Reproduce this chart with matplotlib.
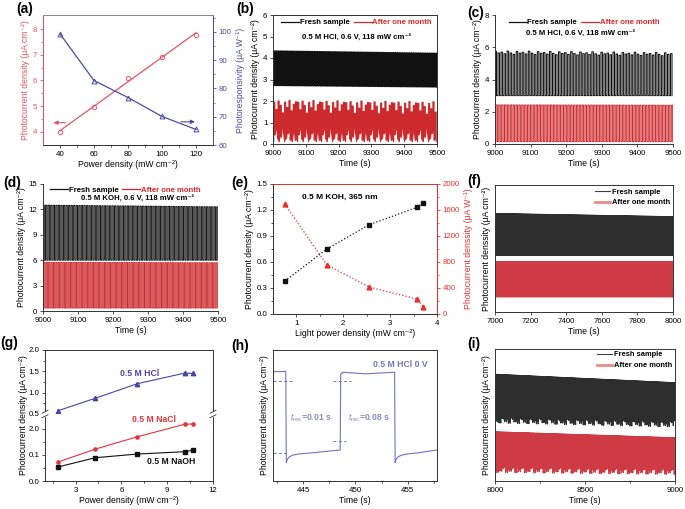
import matplotlib
matplotlib.use('Agg')
import matplotlib.pyplot as plt
import numpy as np
from matplotlib.lines import Line2D

plt.rcParams['font.family'] = ['Liberation Sans', 'DejaVu Sans']
plt.rcParams['mathtext.fontset'] = 'custom'
plt.rcParams['mathtext.rm'] = 'Liberation Sans'
plt.rcParams['mathtext.it'] = 'Liberation Sans:italic'
plt.rcParams['mathtext.bf'] = 'Liberation Sans:bold'

# ---------------- data ----------------
# (a)
a_power = [40, 60, 80, 100, 120]
a_current = [3.99, 4.96, 6.09, 6.92, 7.78]
a_resp = [99.3, 82.8, 76.8, 70.1, 65.5]

# (b) HCl stability (envelope levels at start / end, period in s)
b_env_t = [9000, 9500]
b_fresh_on = [4.33, 4.22]
b_fresh_off = [2.72, 2.65]
b_aged_on = [1.95, 1.88]
b_aged_off = [0.12, 0.12]
b_period = 7
b_aged_on_var = [0.0, -0.35, 0.05, -0.15, -0.5, 0.0, -0.25, 0.08, -0.4, -0.1, 0.02]
b_aged_off_var = [0.0, 0.5, 0.1, 0.3, 0.65, 0.0, 0.2, 0.45, 0.1, 0.35, 0.05]

# (c)
c_env_t = [9000, 9500]
c_fresh_on = [5.65, 5.55]
c_fresh_off = [3.0, 3.0]
c_aged_on = [2.42, 2.4]
c_aged_off = [0.15, 0.15]
c_period = 8.5
c_on_var = [0.1, 0.0, 0.05, -0.05, 0.12, 0.0, -0.08]

# (d)
d_env_t = [9000, 9500]
d_fresh_on = [12.5, 12.3]
d_fresh_off = [6.0, 6.0]
d_aged_on = [5.75, 5.7]
d_aged_off = [0.35, 0.35]
d_period = 7.3

# (e)
e_power = [0.75, 1.65, 2.55, 3.57, 3.70]
e_current = [0.38, 0.75, 1.03, 1.23, 1.28]
e_resp = [1690, 756, 416, 231, 113]

# (f) (arbitrary units)
f_env_t = [7000, 8000]
f_fresh_on = [7.75, 7.5]
f_fresh_off = [4.45, 4.45]
f_aged_on = [3.95, 3.95]
f_aged_off = [1.2, 1.2]
f_period = 4

# (g)
g_power = [1.88, 4.3, 7.05, 10.16, 10.7]
g_hcl = [0.58, 0.87, 1.21, 1.46, 1.45]
g_nacl = [0.073, 0.122, 0.169, 0.217, 0.218]
g_naoh = [0.054, 0.089, 0.103, 0.112, 0.118]
g_low_ticks = [0.0, 0.1, 0.2]
g_low_labels = ['0.0', '0.1', '2.0']

# (h) (arbitrary units)
h_t = [442.13, 443.35, 443.40, 443.5, 443.7, 444.0, 444.6, 445.5, 448.55, 448.60, 448.8,
       449.5, 451.0, 452.5, 453.75, 453.80, 453.9, 454.1, 454.4, 455.0, 456.0, 457.8]
h_y = [8.34, 8.36, 1.40, 1.65, 1.85, 1.97, 2.07, 2.12, 2.37, 8.15, 8.30,
       8.26, 8.18, 8.25, 8.30, 1.40, 1.65, 1.85, 1.97, 2.07, 2.15, 2.37]
h_dash_t0 = [442.13, 442.13, 447.85, 447.85]
h_dash_t1 = [444.1, 443.47, 449.57, 449.1]
h_dash_y = [7.63, 2.11, 7.63, 3.05]

# (i) (arbitrary units)
i_env_t = [8000, 9000]
i_fresh_on = [8.08, 7.44]
i_fresh_off = [5.05, 4.75]
i_aged_on = [3.72, 3.27]
i_aged_off = [1.3, 1.15]
i_period = 4
i_dip = [0.0, 0.35, 0.1, 0.55, 0.2, 0.05, 0.4, 0.15, 0.65, 0.25, 0.0, 0.3, 0.1]

# ---------------- helpers ----------------
W, H = 685, 509
fig = plt.figure(figsize=(6.85, 5.09), dpi=100)

TS = 5.7   # tick size
LS = 6.2   # label size
CM2 = '(μA cm⁻²)'


def px_ax(l, t, r, b):
    return fig.add_axes([l / W, 1 - b / H, (r - l) / W, (b - t) / H])


def style(ax, spines=('left', 'bottom', 'top', 'right')):
    for s in ['left', 'bottom', 'top', 'right']:
        ax.spines[s].set_visible(s in spines)
        ax.spines[s].set_linewidth(0.7)
        ax.spines[s].set_color('#333333')
    ax.tick_params(direction='out', length=2.5, width=0.6, labelsize=TS, pad=1.5, colors='#333333')
    ax.tick_params(which='minor', direction='out', length=1.5, width=0.5)
    ax.tick_params(labelcolor='black')


def square(t0, t1, period, env_t, on_lv, off_lv, on_var=None, off_var=None):
    starts = np.arange(t0, t1, period)
    xs, ys = [], []
    for k, s in enumerate(starts):
        e = min(s + period * 0.5, t1)
        on = np.interp(s, env_t, on_lv) + (on_var[k % len(on_var)] if on_var else 0)
        off = np.interp(s, env_t, off_lv) + (off_var[k % len(off_var)] if off_var else 0)
        off2 = np.interp(e, env_t, off_lv) + (off_var[(k + 3) % len(off_var)] if off_var else 0)
        xs += [s, s, e, e]
        ys += [off, on, on, off2]
    return np.array(xs), np.array(ys)


def panel(x, y, s):
    fig.text(x / W, 1 - y / H, s, fontsize=10, fontweight='bold', ha='left', va='center')


# ---------------- (a) ----------------
RA = '#e0546a'
BA = '#4b4ba2'
ax = px_ax(43, 15, 213, 145)
style(ax)
ax.set_xlim(30, 130)
ax.set_ylim(3.48, 8.55)
fit = np.polyfit(a_power, a_current, 1)
xx = np.array([a_power[0], a_power[-1]])
ax.plot(xx, np.polyval(fit, xx), color=RA, lw=0.9)
ax.plot(a_power, a_current, 'o', mfc='none', mec=RA, ms=3.2, mew=0.7)
ax.set_xticks([40, 60, 80, 100, 120])
ax.set_xticks([50, 70, 90, 110], minor=True)
ax.set_yticks([4, 5, 6, 7, 8])
ax.set_yticks([4.5, 5.5, 6.5, 7.5], minor=True)
ax.spines['left'].set_color(RA)
ax.spines['top'].set_color('#888888')
ax.tick_params(axis='y', which='both', colors=RA, labelcolor=RA)
ax.set_xlabel('Power density (mW cm⁻²)', fontsize=LS, labelpad=1.5)
ax.set_ylabel('Photocurrent density ' + CM2, fontsize=LS, color=RA, labelpad=2)
ax.annotate('', xy=(34.5, 4.35), xytext=(45, 4.35),
            arrowprops=dict(arrowstyle='-|>', color=RA, lw=0.8, mutation_scale=6))
ax2 = ax.twinx()
ax2.set_ylim(60, 106)
ax2.plot(a_power, a_resp, color=BA, lw=0.9, marker='^', mfc='none', mec=BA, ms=3.5, mew=0.7)
style(ax2)
ax2.spines['right'].set_color(BA)
ax2.spines['left'].set_color(RA)
ax2.spines['top'].set_color('#888888')
ax2.set_yticks([60, 70, 80, 90, 100])
ax2.set_yticks([65, 75, 85, 95, 105], minor=True)
ax2.tick_params(axis='y', which='both', colors=BA, labelcolor=BA)
ax2.set_ylabel('Photoresponsivity (μA W⁻¹)', fontsize=LS, color=BA, labelpad=3)
ax2.annotate('', xy=(121, 68.2), xytext=(109.5, 68.2),
             arrowprops=dict(arrowstyle='-|>', color=BA, lw=0.8, mutation_scale=6))
panel(16, 9, '(a)')

# ---------------- (b) (c) (d) ----------------
KC = '#111111'
RC = '#cc2a2d'


def stab_legend(ax, x, y):
    h = [Line2D([], [], color=KC, lw=0.9), Line2D([], [], color=RC, lw=0.9)]
    leg = ax.legend(h, ['Fresh sample', 'After one month'], ncol=2, loc='center',
                    bbox_to_anchor=(x, y), frameon=False,
                    prop=dict(weight='bold', size=5.6), handlelength=2.3,
                    columnspacing=0.5, handletextpad=0.1, borderpad=0, borderaxespad=0)
    leg.get_texts()[1].set_color('#e02828')


def stab_panel(box, env_t, f_on, f_off, a_on, a_off, period, ylim, yticks, spines, legxy, txtxy, txt,
               on_var=None, aon_var=None, aoff_var=None, lw=0.85, snap=None):
    ax = px_ax(*box)
    style(ax, spines)
    x, y = square(9000, 9500, period, env_t, f_on, f_off, on_var=on_var)
    ax.plot(x, y, color=KC, lw=lw, snap=snap)
    x, y = square(9000 + period * 0.3, 9500, period * 0.95, env_t, a_on, a_off, on_var=aon_var, off_var=aoff_var)
    ax.plot(x, y, color=RC, lw=lw, snap=snap)
    ax.set_xlim(9000, 9500)
    ax.set_ylim(*ylim)
    ax.set_yticks(yticks)
    ax.set_xticks([9000, 9100, 9200, 9300, 9400, 9500])
    ax.set_xlabel('Time (s)', fontsize=LS, labelpad=1.5)
    ax.set_ylabel('Photocurrent density ' + CM2, fontsize=LS, labelpad=2)
    stab_legend(ax, *legxy)
    ax.text(txtxy[0], txtxy[1], txt, transform=ax.transAxes, ha='center', va='center',
            fontsize=5.6, fontweight='bold')
    return ax


stab_panel((273, 15, 437, 144), b_env_t, b_fresh_on, b_fresh_off, b_aged_on, b_aged_off, b_period,
           (0, 6), [0, 1, 2, 3, 4, 5, 6], ('left', 'bottom', 'top', 'right'),
           (0.51, 0.94), (0.51, 0.83), '0.5 M HCl, 0.6 V, 118 mW cm⁻²',
           aon_var=b_aged_on_var, aoff_var=b_aged_off_var)
panel(236, 9, '(b)')

stab_panel((495, 15, 673, 144), c_env_t, c_fresh_on, c_fresh_off, c_aged_on, c_aged_off, c_period,
           (0, 8), [0, 2, 4, 6, 8], ('left', 'bottom'),
           (0.50, 0.94), (0.48, 0.86), '0.5 M HCl, 0.6 V, 118 mW cm⁻²', on_var=c_on_var,
           lw=0.75, snap=False)
panel(467, 13, '(c)')

stab_panel((43, 184, 218, 311), d_env_t, d_fresh_on, d_fresh_off, d_aged_on, d_aged_off, d_period,
           (0, 15), [0, 3, 6, 9, 12, 15], ('left', 'bottom'),
           (0.47, 0.95), (0.54, 0.885), '0.5 M KOH, 0.6 V, 118 mW cm⁻²', lw=0.7, snap=False)
panel(3, 183, '(d)')

# ---------------- (e) ----------------
RE = '#e8302e'
ax = px_ax(273, 184, 437, 314)
style(ax)
ax.plot(e_power, e_current, ls=':', color='#111111', lw=0.9, marker='s', ms=3, mfc='#111111', mec='#111111')
ax.set_xlim(0.5, 4)
ax.set_ylim(0, 1.5)
ax.set_xticks([1, 2, 3, 4])
ax.set_xticks([1.5, 2.5, 3.5], minor=True)
ax.set_yticks([0, 0.3, 0.6, 0.9, 1.2, 1.5])
ax.set_yticks([0.15, 0.45, 0.75, 1.05, 1.35], minor=True)
ax.yaxis.set_major_formatter(matplotlib.ticker.FormatStrFormatter('%.1f'))
ax.set_xlabel('Light power density (mW cm⁻²)', fontsize=LS, labelpad=1.5)
ax.set_ylabel('Photocurrent density ' + CM2, fontsize=LS, labelpad=2)
ax.text(0.177, 0.9, '0.5 M KOH, 365 nm', transform=ax.transAxes, fontsize=6, fontweight='bold',
        ha='left', va='center')
ax2 = ax.twinx()
style(ax2)
ax2.plot(e_power, e_resp, ls=':', color=RE, lw=0.9, marker='^', ms=3.5, mfc=RE, mec=RE)
ax2.set_ylim(0, 2000)
ax2.set_yticks([0, 400, 800, 1200, 1600, 2000])
ax2.set_yticks([200, 600, 1000, 1400, 1800], minor=True)
ax2.spines['right'].set_color(RE)
ax2.spines['top'].set_color(RE)
ax2.tick_params(axis='y', which='both', colors=RE, labelcolor=RE)
ax2.set_ylabel('Photocurrent denssity (μA W⁻¹)', fontsize=LS, color=RE, labelpad=3)
panel(231, 183, '(e)')

# ---------------- (f) (i) ----------------
KF = '#2e2e2e'
RF = '#cf3b44'


def long_panel(box, t0, t1, env_t, f_on, f_off, a_on, a_off, period, xticks, xminor, legy, dip=None):
    ax = px_ax(*box)
    style(ax)
    x, y = square(t0, t1, period, env_t, f_on, f_off, off_var=[-d for d in dip] if dip else None)
    ax.plot(x, y, color=KF, lw=0.8, snap=False)
    x, y = square(t0 + period * 0.4, t1, period, env_t, a_on, a_off,
                  off_var=[-d for d in dip[::-1]] if dip else None)
    ax.plot(x, y, color=RF, lw=0.8, snap=False)
    ax.set_xlim(t0, t1)
    ax.set_ylim(0, 10)
    ax.set_yticks([])
    ax.set_xticks(xticks)
    if xminor:
        ax.set_xticks(xminor, minor=True)
    ax.set_xlabel('Time (s)', fontsize=LS, labelpad=1.5)
    ax.set_ylabel('Photocurrent denssity ' + CM2 if dip is None else 'Photocurrent density ' + CM2,
                  fontsize=LS, labelpad=3)
    h = [Line2D([], [], color='#404040', lw=0.8), Line2D([], [], color='#ea8a8c', lw=2.0)]
    ax.legend(h, ['Fresh sample', 'After one month'], loc='upper right', bbox_to_anchor=(1.0, legy),
              frameon=False, prop=dict(weight='bold', size=5.4), handlelength=2.0,
              handletextpad=0.4, labelspacing=0.45, borderpad=0.2, borderaxespad=0.1,
              facecolor='white')
    return ax


long_panel((495, 185, 673, 312), 7000, 8000, f_env_t, f_fresh_on, f_fresh_off, f_aged_on, f_aged_off,
           f_period, [7000, 7200, 7400, 7600, 7800, 8000], None, 0.99)
panel(467, 181, '(f)')

long_panel((495, 349, 675, 481), 8000, 9000, i_env_t, i_fresh_on, i_fresh_off, i_aged_on, i_aged_off,
           i_period, [8000, 8500, 9000], [8250, 8750], 1.0, dip=i_dip)
panel(467, 344, '(i)')

# ---------------- (g) ----------------
BG = '#4646aa'
RG = '#e2323c'
axt = px_ax(45, 350, 213, 414)
axb = px_ax(45, 414, 213, 481)
style(axt, ('left', 'top', 'right'))
style(axb, ('left', 'bottom', 'right'))
axt.plot(g_power, g_hcl, color=BG, lw=0.8, marker='^', ms=3.2, mfc=BG, mec=BG)
axb.plot(g_power, g_nacl, color=RG, lw=0.8, marker='o', ms=2.3, mfc=RG, mec=RG)
axb.plot(g_power, g_naoh, color='#111111', lw=0.8, marker='s', ms=2.3, mfc='#111111', mec='#111111')
for a in (axt, axb):
    a.set_xlim(1, 12)
axt.set_ylim(0.5, 2.0)
axb.set_ylim(0, 0.256)
axt.set_xticks([])
axt.set_yticks([0.5, 1.0, 1.5, 2.0])
axt.set_yticks([0.75, 1.25, 1.75], minor=True)
axt.yaxis.set_major_formatter(matplotlib.ticker.FormatStrFormatter('%.1f'))
axb.set_xticks([3, 6, 9, 12])
axb.set_xticks([1.5, 4.5, 7.5, 10.5], minor=True)
axb.set_yticks(g_low_ticks)
axb.set_yticklabels(g_low_labels)
axb.set_yticks([0.05, 0.15, 0.25], minor=True)
axb.set_xlabel('Power density (mW cm⁻²)', fontsize=LS, labelpad=1.5)
fig.text(24 / W, 1 - 415 / H, 'Photocurrent density ' + CM2, rotation=90, fontsize=LS,
         ha='center', va='center')
fig.text(120 / W, 1 - 373 / H, '0.5 M HCl', color=BG, fontsize=6.2, fontweight='bold', ha='left', va='center')
fig.text(132 / W, 1 - 419 / H, '0.5 M NaCl', color=RG, fontsize=6.2, fontweight='bold', ha='left', va='center')
fig.text(147 / W, 1 - 461 / H, '0.5 M NaOH', color='#111111', fontsize=6.2, fontweight='bold', ha='left', va='center')
# break marks
for xp in (45, 213):
    fig.patches.append(matplotlib.patches.Rectangle(((xp - 3) / W, 1 - 416 / H), 6 / W, 4 / H,
                                                    transform=fig.transFigure, color='white', zorder=5))
    for dy in (-2.2, 2.2):
        fig.lines.append(Line2D([(xp - 3) / W, (xp + 3) / W],
                                [1 - (414 + dy + 1.5) / H, 1 - (414 + dy - 1.5) / H],
                                transform=fig.transFigure, color='#333333', lw=0.6, zorder=6))
panel(0, 343, '(g)')

# ---------------- (h) ----------------
HC = '#7272c2'
HT = '#8a8ac6'
ax = px_ax(273, 350, 437, 481)
style(ax)
ax.plot(h_t, h_y, color=HC, lw=0.8)
for t0, t1, yv in zip(h_dash_t0, h_dash_t1, h_dash_y):
    ax.plot([t0, t1], [yv, yv], ls=(0, (3, 2.5)), color=HC, lw=0.7)
ax.set_xlim(442.13, 457.8)
ax.set_ylim(0, 10)
ax.set_yticks([])
ax.set_xticks([445, 450, 455])
ax.set_xticks([442.5, 447.5, 452.5, 457.5], minor=True)
ax.set_xlabel('Time (s)', fontsize=LS, labelpad=1.5)
ax.set_ylabel('Photocurrent density ' + CM2, fontsize=LS, labelpad=3)
ax.text(443.75, 4.86, r'$t_{\rm res}$=0.01 s', color=HT, fontsize=6.2, fontweight='bold', ha='left', va='center')
ax.text(449.25, 4.86, r'$t_{\rm rec}$=0.08 s', color=HT, fontsize=6.2, fontweight='bold', ha='left', va='center')
ax.text(456.9, 8.93, '0.5 M HCl 0 V', color=HC, fontsize=6.2, fontweight='bold', ha='right', va='center')
panel(231, 346, '(h)')

fig.savefig('out.png', dpi=100)
